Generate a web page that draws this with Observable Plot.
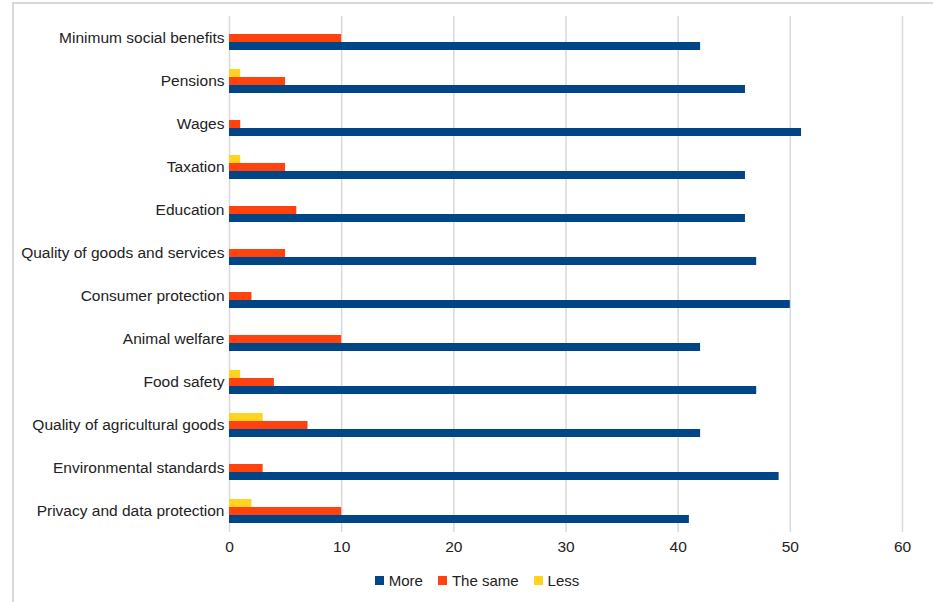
<!DOCTYPE html>
<html><head><meta charset="utf-8">
<script src="https://cdn.jsdelivr.net/npm/d3@7"></script>
<script src="https://cdn.jsdelivr.net/npm/@observablehq/plot@0.6"></script>
<style>
body{margin:0;background:#fff;font-family:"Liberation Sans",Arial,sans-serif;overflow:hidden;}
#frame{position:absolute;left:12px;top:2px;width:1000px;height:700px;border-left:2px solid #d9d9d9;border-top:2px solid #d9d9d9;}
#chart{position:absolute;left:0;top:0;}
#legend{position:absolute;left:18px;top:564px;width:933px;}
#legend span{margin-right:15px !important;}
#legend span svg{margin-right:5px !important;}
</style></head><body><div id="frame"></div><div id="chart"></div><div id="legend"></div>
<script>
const categories = ["Minimum social benefits","Pensions","Wages","Taxation","Education","Quality of goods and services","Consumer protection","Animal welfare","Food safety","Quality of agricultural goods","Environmental standards","Privacy and data protection"];
const more = [42,46,51,46,46,47,50,42,47,42,49,41];
const same = [10,5,1,5,6,5,2,10,4,7,3,10];
const less = [0,1,0,1,0,0,0,0,1,3,0,2];
const series = ["More","The same","Less"];
const colors = ["#004586","#ff420e","#ffd320"];
const xTicks = [0,10,20,30,40,50,60];

const data = categories.flatMap((c, i) => [
  {category: c, series: "Less", value: less[i]},
  {category: c, series: "The same", value: same[i]},
  {category: c, series: "More", value: more[i]}
]);

const font = "'Liberation Sans', Arial, sans-serif";
const chart = Plot.plot({
  width: 933, height: 560,
  marginLeft: 229, marginRight: 31, marginTop: 15, marginBottom: 27,
  style: {fontFamily: font, fontSize: "15.5px", color: "#222", background: "transparent", overflow: "visible"},
  x: {domain: [0, 60], ticks: xTicks, tickSize: 0, tickPadding: 8, label: null},
  fy: {domain: categories, padding: 0, tickSize: 0, tickPadding: 5, label: null, axis: "left"},
  y: {domain: ["Less", "The same", "More"], paddingInner: 0, paddingOuter: 0.9, axis: null},
  color: {domain: series, range: colors},
  marks: [
    Plot.gridX(xTicks, {stroke: "#d9d9d9", strokeOpacity: 1, strokeWidth: 1.5}),
    Plot.barX(data, {fy: "category", y: "series", x: "value", fill: "series"})
  ]
});
document.getElementById("chart").appendChild(chart);

const legend = Plot.legend({
  color: {domain: series, range: colors},
  legend: "swatches", swatchSize: 9,
  style: {fontFamily: font, fontSize: "15px", color: "#222"}
});
legend.style.justifyContent = "center";
document.getElementById("legend").appendChild(legend);
</script>
</body></html>
